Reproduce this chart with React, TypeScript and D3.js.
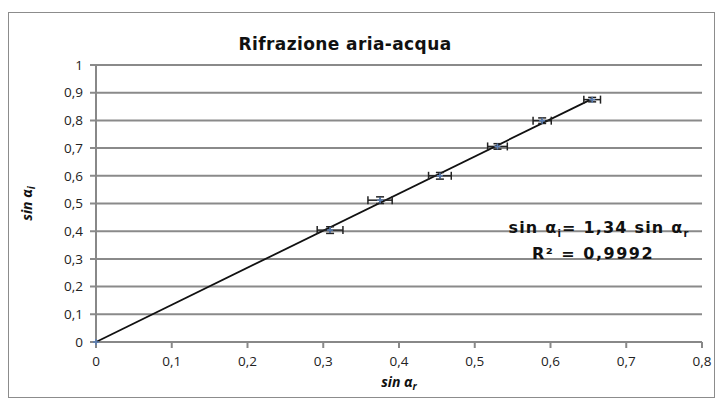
import React from "react";
import * as d3 from "d3";

// dati
const sinR = [0, 0.309, 0.375, 0.454, 0.53, 0.589, 0.655];
const sinI = [0, 0.404, 0.512, 0.6, 0.706, 0.799, 0.875];
const errR = [0, 0.017, 0.016, 0.015, 0.013, 0.012, 0.011];
const errI = [0, 0.012, 0.012, 0.012, 0.01, 0.01, 0.008];
const slope = 1.34;
const xTicks = [0, 0.1, 0.2, 0.3, 0.4, 0.5, 0.6, 0.7, 0.8];
const yTicks = [0, 0.1, 0.2, 0.3, 0.4, 0.5, 0.6, 0.7, 0.8, 0.9, 1];

const width = 715;
const height = 399;
const margin = { top: 65, right: 13, bottom: 57, left: 96 };

const fmt = (v: number) => (v === 0 || v === 1 ? String(v) : v.toFixed(1).replace(".", ","));

export default function App() {
  const x = d3.scaleLinear().domain([0, 0.8]).range([margin.left, width - margin.right]);
  const y = d3.scaleLinear().domain([0, 1]).range([height - margin.bottom, margin.top]);

  const points = sinR.map((r, i) => ({ r, s: sinI[i], er: errR[i], es: errI[i] }));
  const trendX = [0, d3.max(sinR) as number];
  const line = d3
    .line<number>()
    .x((d) => x(d))
    .y((d) => y(d * slope));

  const axisColor = "#888";
  const tickFont = "'Open Sans', 'DejaVu Sans', sans-serif";
  const titleFont = "'DejaVu Sans', sans-serif";

  return (
    <svg
      width={width}
      height={height}
      style={{ position: "absolute", left: 0, top: 0, background: "white" }}
    >
      <rect x={8.5} y={12.5} width={706} height={385} fill="white" stroke="#8c8c8c" />

      {/* griglia orizzontale */}
      {yTicks.map((t) => (
        <g key={"y" + t}>
          <line x1={x(0) - 6} x2={x(0.8)} y1={y(t)} y2={y(t)} stroke={t === 0 ? axisColor : "#8a8a8a"} strokeWidth={2} />
          <text
            x={x(0) - 13}
            y={y(t)}
            dy="0.35em"
            textAnchor="end"
            fontFamily={tickFont}
            fontSize={13.5}
            fill="#222"
          >
            {fmt(t)}
          </text>
        </g>
      ))}

      {/* asse y */}
      <line x1={x(0)} x2={x(0)} y1={y(1)} y2={y(0)} stroke={axisColor} strokeWidth={2} />

      {/* tick asse x */}
      {xTicks.map((t) => (
        <g key={"x" + t}>
          <line x1={x(t)} x2={x(t)} y1={y(0)} y2={y(0) + 6} stroke={axisColor} strokeWidth={2} />
          <text
            x={x(t)}
            y={y(0) + 24}
            textAnchor="middle"
            fontFamily={tickFont}
            fontSize={13.5}
            fill="#222"
          >
            {fmt(t)}
          </text>
        </g>
      ))}

      {/* retta di tendenza */}
      <path d={line(trendX) || ""} fill="none" stroke="#111" strokeWidth={1.8} />

      {/* barre di errore */}
      {points.map((p, i) =>
        p.er > 0 ? (
          <g key={"e" + i} stroke="#222" strokeWidth={1.5}>
            <line x1={x(p.r - p.er)} x2={x(p.r + p.er)} y1={y(p.s)} y2={y(p.s)} />
            <line x1={x(p.r - p.er)} x2={x(p.r - p.er)} y1={y(p.s) - 4} y2={y(p.s) + 4} />
            <line x1={x(p.r + p.er)} x2={x(p.r + p.er)} y1={y(p.s) - 4} y2={y(p.s) + 4} />
            <line x1={x(p.r)} x2={x(p.r)} y1={y(p.s + p.es)} y2={y(p.s - p.es)} />
            <line x1={x(p.r) - 4} x2={x(p.r) + 4} y1={y(p.s + p.es)} y2={y(p.s + p.es)} />
            <line x1={x(p.r) - 4} x2={x(p.r) + 4} y1={y(p.s - p.es)} y2={y(p.s - p.es)} />
          </g>
        ) : null
      )}

      {/* marcatori */}
      {points.map((p, i) => (
        <g key={"m" + i} stroke="#5b7fb5" strokeWidth={1.5}>
          <line x1={x(p.r) - 3} x2={x(p.r) + 3} y1={y(p.s)} y2={y(p.s)} />
          <line x1={x(p.r)} x2={x(p.r)} y1={y(p.s) - 3} y2={y(p.s) + 3} />
        </g>
      ))}

      {/* titolo */}
      <text x={345} y={50} textAnchor="middle" fontFamily={titleFont} fontWeight="bold" fontSize={17} letterSpacing={0.4} fill="#111">
        Rifrazione aria-acqua
      </text>

      {/* equazione */}
      <text x={599} y={233} textAnchor="middle" fontFamily={titleFont} fontWeight="bold" fontSize={16} letterSpacing={1.2} fill="#111">
        sin  α<tspan fontSize={10} dy={4}>i</tspan>
        <tspan dy={-4}>= 1,34 sin α</tspan>
        <tspan fontSize={10} dy={4}>r</tspan>
      </text>
      <text x={593} y={259} textAnchor="middle" fontFamily={titleFont} fontWeight="bold" fontSize={16} letterSpacing={1.5} fill="#111">
        R² = 0,9992
      </text>

      {/* titoli assi */}
      <text
        transform={`translate(32,${y(0.5)}) rotate(-90)`}
        textAnchor="middle"
        fontFamily={tickFont}
        fontWeight="bold"
        fontStyle="italic"
        fontSize={14}
        fill="#111"
      >
        sin α<tspan fontSize={10} dy={3}>i</tspan>
      </text>
      <text
        x={x(0.4)}
        y={387}
        textAnchor="middle"
        fontFamily={tickFont}
        fontWeight="bold"
        fontStyle="italic"
        fontSize={14}
        fill="#111"
      >
        sin α<tspan fontSize={10} dy={3}>r</tspan>
      </text>
    </svg>
  );
}
